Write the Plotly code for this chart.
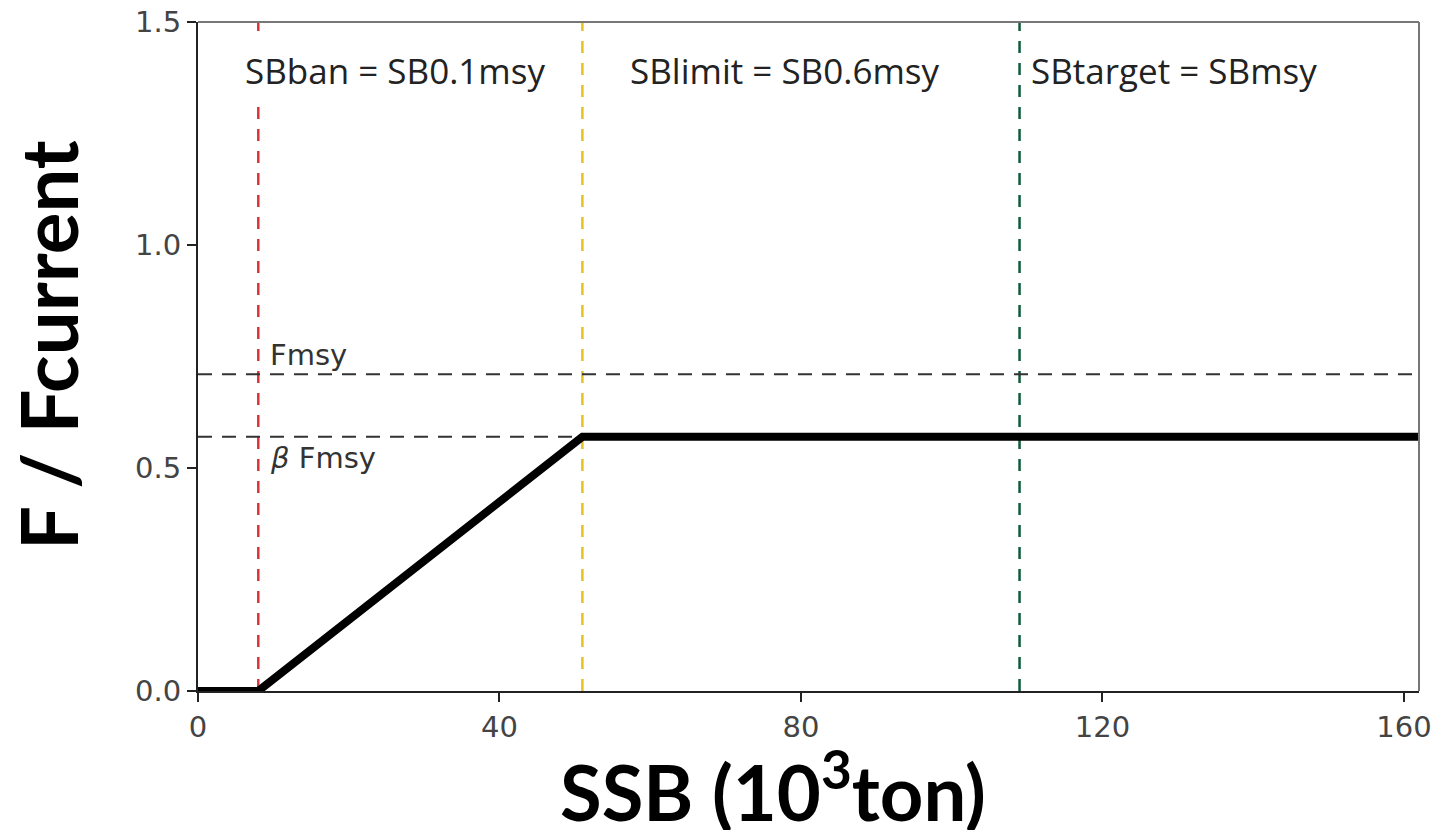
import plotly.graph_objects as go

# harvest control rule (F / Fcurrent vs SSB)
hcr_x = [0, 8, 51, 162]
hcr_y = [0, 0, 0.57, 0.57]

fmsy = 0.71
beta_fmsy = 0.57

ref_names = ["SBban = SB0.1msy", "SBlimit = SB0.6msy", "SBtarget = SBmsy"]
ref_x = [8, 51, 109]
ref_colors = ["#d9343c", "#e8c020", "#0d5b3c"]
label_x = [26.1, 77.8, 129.5]

x_ticks = [0, 40, 80, 120, 160]
y_ticks = [0.0, 0.5, 1.0, 1.5]

tick_font = dict(family="DejaVu Sans", size=29, color="#444444")
note_font = dict(family="DejaVu Sans", size=29, color="#333333")

fig = go.Figure()

# reference points (vertical dashed lines)
for xv, col in zip(ref_x, ref_colors):
    fig.add_trace(go.Scatter(
        x=[xv, xv], y=[0, 1.5], mode="lines",
        line=dict(color=col, width=2.5, dash="12px,10px"),
        hoverinfo="skip", showlegend=False
    ))

# Fmsy and beta*Fmsy
fig.add_trace(go.Scatter(
    x=[0, 162], y=[fmsy, fmsy], mode="lines",
    line=dict(color="#333333", width=2, dash="14px,10px"),
    hoverinfo="skip", showlegend=False
))
fig.add_trace(go.Scatter(
    x=[0, ref_x[1]], y=[beta_fmsy, beta_fmsy], mode="lines",
    line=dict(color="#333333", width=2, dash="14px,10px"),
    hoverinfo="skip", showlegend=False
))

# the rule itself
fig.add_trace(go.Scatter(
    x=hcr_x, y=hcr_y, mode="lines",
    line=dict(color="black", width=8),
    showlegend=False
))

# labels for the reference points (white box hides the dashed lines)
for name, lx in zip(ref_names, label_x):
    fig.add_annotation(
        x=lx, y=1.392, text=name, showarrow=False,
        font=dict(family="Open Sans", size=35, color="#222222"),
        bgcolor="white", borderpad=6
    )

fig.add_annotation(x=9.3, y=fmsy, text="Fmsy", showarrow=False,
                   xanchor="left", yanchor="bottom", yshift=0,
                   font=note_font)
fig.add_annotation(x=9.3, y=beta_fmsy, text="<i>β</i> Fmsy", showarrow=False,
                   xanchor="left", yanchor="top", yshift=-2,
                   font=note_font)

# axis titles
fig.add_annotation(xref="paper", yref="paper", x=0.471, y=-0.143,
                   text="<b>SSB (10<sup>3</sup>ton)</b>", showarrow=False,
                   xanchor="center", yanchor="middle",
                   font=dict(family="Lato", size=76, color="black"))
fig.add_annotation(xref="paper", yref="paper", x=-0.1229, y=0.517,
                   text="<b>F / Fcurrent</b>", showarrow=False, textangle=-90,
                   xanchor="center", yanchor="middle",
                   font=dict(family="Lato", size=78, color="black"))

# grey top / right frame
fig.add_shape(type="line", xref="paper", yref="paper", x0=0, x1=1, y0=1, y1=1,
              line=dict(color="#777777", width=2))
fig.add_shape(type="line", xref="paper", yref="paper", x0=1, x1=1, y0=0, y1=1,
              line=dict(color="#777777", width=2))

# page body adds 8px around the figure, so size/margins are offset by it
fig.update_layout(
    width=1427, height=822,
    plot_bgcolor="white", paper_bgcolor="white",
    margin=dict(l=190, r=16, t=14, b=139),
    xaxis=dict(
        range=[0, 162], tickvals=x_ticks, showgrid=False, zeroline=False,
        showline=True, linecolor="#222222", linewidth=2, automargin=False,
        ticks="outside", ticklen=9, tickwidth=2, tickcolor="#222222",
        tickfont=tick_font, ticklabeloverflow="allow"
    ),
    yaxis=dict(
        range=[0, 1.5001], tickvals=y_ticks, tickformat=".1f",
        showgrid=False, zeroline=False, automargin=False,
        showline=True, linecolor="#222222", linewidth=2,
        ticks="outside", ticklen=9, tickwidth=2, tickcolor="#222222",
        tickfont=tick_font, ticklabeloverflow="allow"
    )
)

fig.write_html("out.html")
